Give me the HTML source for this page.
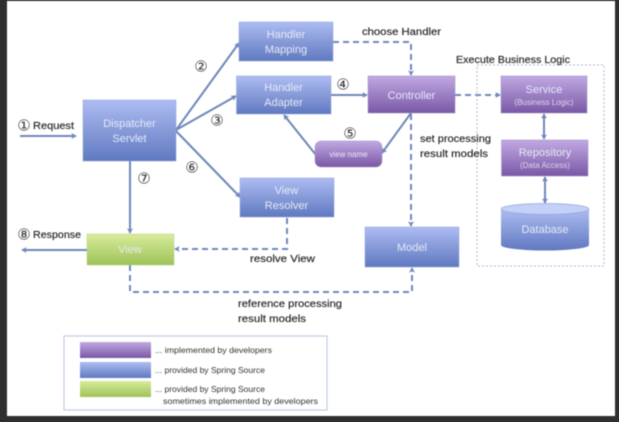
<!DOCTYPE html>
<html><head><meta charset="utf-8"><style>
html,body{margin:0;padding:0;width:619px;height:422px;overflow:hidden;background:#2e2f31}
svg{display:block;position:absolute;left:0;top:0;filter:blur(.6px)}
text{font-family:"Liberation Sans",sans-serif}
.w{fill:#e4e9f6;font-size:11px;text-anchor:middle}
.w2{fill:#dcd4ea;font-size:8px;text-anchor:middle}
.k{fill:#222;font-size:10.5px;stroke:#222;stroke-width:.15}
.l{fill:#333;font-size:8.2px}
.c{font-family:"DejaVu Sans",sans-serif;fill:#333;font-size:15px;text-anchor:middle}
.s{stroke:#6f87bb;stroke-width:2;fill:none}
.d{stroke:#6f87bb;stroke-width:2;fill:none;stroke-dasharray:6 4}
</style></head><body>
<svg width="619" height="422" viewBox="0 0 619 422" xmlns="http://www.w3.org/2000/svg">
<defs>
<linearGradient id="b" x1="0" y1="0" x2="0" y2="1"><stop offset="0" stop-color="#aebcf2"/><stop offset="1" stop-color="#6079c0"/></linearGradient>
<linearGradient id="p" x1="0" y1="0" x2="0" y2="1"><stop offset="0" stop-color="#c0a9e2"/><stop offset="1" stop-color="#7a58a6"/></linearGradient>
<linearGradient id="g" x1="0" y1="0" x2="0" y2="1"><stop offset="0" stop-color="#d8ec9c"/><stop offset="1" stop-color="#9ec257"/></linearGradient>
<marker id="a" markerWidth="6" markerHeight="6" refX="4.5" refY="3" orient="auto-start-reverse" markerUnits="userSpaceOnUse"><path d="M0,0 L5,3 L0,6 L1,3 Z" fill="#6f87bb"/></marker>
</defs>
<rect x="7" y="1" width="608" height="415" fill="#fff"/>

<!-- solid connectors -->
<path class="s" d="M20,136 H76" marker-end="url(#a)"/>
<path class="s" d="M176,130 L239,43" marker-end="url(#a)"/>
<path class="s" d="M176,130 L236,96" marker-end="url(#a)"/>
<path class="s" d="M176,131 L240,197" marker-end="url(#a)"/>
<path class="s" d="M130,161 V233" marker-end="url(#a)"/>
<path class="s" d="M87,250 H22" marker-end="url(#a)"/>
<path class="s" d="M331,95 H367" marker-end="url(#a)"/>
<path class="s" d="M411,113 L382,153" marker-end="url(#a)"/>
<path class="s" d="M316,155 L284,115" marker-end="url(#a)"/>
<path class="s" d="M544,114 V139" marker-start="url(#a)" marker-end="url(#a)"/>
<path class="s" d="M545,177 V203" marker-start="url(#a)" marker-end="url(#a)"/>

<!-- dashed connectors -->
<path class="d" d="M333,42 H411 V75" marker-end="url(#a)"/>
<path class="d" d="M455,95 H500" marker-end="url(#a)"/>
<path class="d" d="M411,114 V226" marker-end="url(#a)"/>
<path class="d" d="M287,218 V249 H175" marker-end="url(#a)"/>
<path class="d" d="M130,265 V292 H412 V268" marker-end="url(#a)"/>

<!-- dotted container -->
<rect x="477" y="65" width="127" height="201" fill="none" stroke="#a9bbd3" stroke-width="1" stroke-dasharray="2 2"/>

<!-- boxes -->
<rect x="239" y="22" width="94" height="39" fill="url(#b)" stroke="#8fa2d8" stroke-width=".5"/>
<rect x="236.500" y="76" width="94.500" height="38" fill="url(#b)" stroke="#8fa2d8" stroke-width=".5"/>
<rect x="83" y="100" width="93" height="61" fill="url(#b)" stroke="#8fa2d8" stroke-width=".5"/>
<rect x="240" y="178" width="94" height="39" fill="url(#b)" stroke="#8fa2d8" stroke-width=".5"/>
<rect x="365" y="227" width="94" height="40" fill="url(#b)" stroke="#8fa2d8" stroke-width=".5"/>
<rect x="368" y="76" width="87" height="37" fill="url(#p)" stroke="#a08cc4" stroke-width=".5"/>
<rect x="315" y="141" width="67" height="26" rx="6" fill="url(#p)" stroke="#a08cc4" stroke-width=".5"/>
<rect x="501" y="76" width="86" height="37" fill="url(#p)" stroke="#a08cc4" stroke-width=".5"/>
<rect x="501.500" y="140" width="86.500" height="36" fill="url(#p)" stroke="#a08cc4" stroke-width=".5"/>
<rect x="87" y="234" width="87" height="31" fill="url(#g)" stroke="#b8d088" stroke-width=".5"/>

<!-- database -->
<path d="M501,209 V245 A44,5.500 0 0 0 589,245 V209 Z" fill="url(#b)"/>
<ellipse cx="545" cy="209" rx="44" ry="5.500" fill="#c4d0f6" stroke="#93a6dc" stroke-width=".7"/>

<!-- box labels -->
<text class="w" x="286" y="38">Handler</text><text class="w" x="286" y="53">Mapping</text>
<text class="w" x="283.500" y="91">Handler</text><text class="w" x="283.500" y="106">Adapter</text>
<text class="w" x="129.500" y="127">Dispatcher</text><text class="w" x="129.500" y="142">Servlet</text>
<text class="w" x="286.500" y="194">View</text><text class="w" x="286.500" y="209">Resolver</text>
<text class="w" x="411.500" y="99">Controller</text>
<text class="w" style="font-size:8px" x="348.500" y="157">view name</text>
<text class="w" x="544" y="93">Service</text><text class="w2" x="544" y="105">(Business Logic)</text>
<text class="w" x="545" y="156">Repository</text><text class="w2" x="545" y="168">(Data Access)</text>
<text class="w" x="545" y="233">Database</text>
<text class="w" x="130" y="253">View</text>
<text class="w" x="412" y="251">Model</text>

<!-- numerals -->
<text class="c" x="201" y="71.500">②</text>
<text class="c" x="217" y="125.500">③</text>
<text class="c" x="343" y="89.500">④</text>
<text class="c" x="350" y="138.500">⑤</text>
<text class="c" x="192" y="172.500">⑥</text>
<text class="c" x="144" y="183.500">⑦</text>
<text class="c" x="24" y="130.500">①</text>
<text class="c" x="24" y="239.500">⑧</text>

<!-- plain labels -->
<text class="k" x="33" y="129" textLength="41" lengthAdjust="spacingAndGlyphs">Request</text>
<text class="k" x="33" y="238" textLength="48" lengthAdjust="spacingAndGlyphs">Response</text>
<text class="k" x="362" y="35" textLength="79" lengthAdjust="spacingAndGlyphs">choose Handler</text>
<text class="k" x="456" y="63" textLength="114" lengthAdjust="spacingAndGlyphs">Execute Business Logic</text>
<text class="k" x="420" y="142" textLength="71" lengthAdjust="spacingAndGlyphs">set processing</text>
<text class="k" x="420" y="157" textLength="68" lengthAdjust="spacingAndGlyphs">result models</text>
<text class="k" x="250" y="262" textLength="65" lengthAdjust="spacingAndGlyphs">resolve View</text>
<text class="k" x="238" y="307" textLength="104" lengthAdjust="spacingAndGlyphs">reference processing</text>
<text class="k" x="238" y="322" textLength="68" lengthAdjust="spacingAndGlyphs">result models</text>

<!-- legend -->
<rect x="64" y="336" width="263" height="74" fill="#fff" stroke="#b6c6e4" stroke-width="1"/>
<rect x="80" y="342" width="71" height="16" fill="url(#p)"/>
<rect x="80" y="362" width="71" height="16" fill="url(#b)"/>
<rect x="80" y="381" width="71" height="16" fill="url(#g)"/>
<text class="l" x="155" y="353" textLength="117" lengthAdjust="spacingAndGlyphs">... implemented by developers</text>
<text class="l" x="155" y="373" textLength="110" lengthAdjust="spacingAndGlyphs">... provided by Spring Source</text>
<text class="l" x="155" y="392" textLength="110" lengthAdjust="spacingAndGlyphs">... provided by Spring Source</text>
<text class="l" x="163" y="404" textLength="155" lengthAdjust="spacingAndGlyphs">sometimes implemented by developers</text>
</svg>
</body></html>
